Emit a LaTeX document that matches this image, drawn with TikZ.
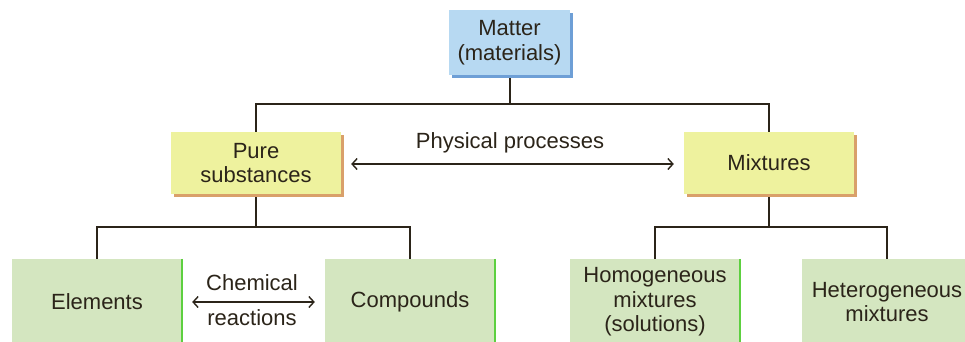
\documentclass[tikz,border=0pt]{standalone}
\usepackage{fontspec}
\setmainfont{Liberation Sans}
\usetikzlibrary{arrows.meta,shadows}
\definecolor{txt}{HTML}{2B2419}
\definecolor{bluefill}{HTML}{B7D9F2}
\definecolor{blueshade}{HTML}{6E9FD6}
\definecolor{yelfill}{HTML}{EEF29E}
\definecolor{yelshade}{HTML}{D9A06A}
\definecolor{grnfill}{HTML}{D4E6C0}
\definecolor{grnedge}{HTML}{5DD040}
\tikzset{
  base/.style={inner sep=0pt, align=center, text=txt, font=\fontsize{22}{24.5}\selectfont},
  bluebox/.style={base, fill=bluefill, minimum width=121pt, minimum height=65pt,
    drop shadow={shadow xshift=3pt, shadow yshift=-3pt, fill=blueshade, opacity=1}},
  yelbox/.style={base, fill=yelfill, minimum width=170pt, minimum height=62pt,
    drop shadow={shadow xshift=3pt, shadow yshift=-3pt, fill=yelshade, opacity=1}},
  grnbox/.style={base, fill=grnfill, minimum width=170pt, minimum height=86pt},
  conn/.style={draw=txt, line width=2pt},
  biarrow/.style={draw=txt, line width=1.4pt, {Straight Barb[length=5pt,width=11pt]}-{Straight Barb[length=5pt,width=11pt]}},
  lbl/.style={base}
}
\begin{document}
\begin{tikzpicture}[x=1pt,y=-1pt]
\useasboundingbox (0,0) rectangle (965,341);
\fill[white] (0,0) rectangle (965,341);
\node[bluebox] (matter) at (509.5,42.5) {Matter\\(materials)};
\node[yelbox] (pure) at (256,163) {Pure\\substances};
\node[yelbox] (mix) at (769,163) {Mixtures};
\node[grnbox] (elem) at (97,302) {Elements};
\node[grnbox] (comp) at (410,302) {Compounds};
\node[grnbox] (homo) at (655,302) {Homogeneous\\mixtures\\(solutions)};
\node[grnbox] (hete) at (887,302) {Heterogeneous\\mixtures};
\draw[grnedge, line width=2.5pt] (elem.north east) -- (elem.south east);
\draw[grnedge, line width=2.5pt] (comp.north east) -- (comp.south east);
\draw[grnedge, line width=2.5pt] (homo.north east) -- (homo.south east);
% tree connectors
\coordinate (j1) at (509.5,104);
\coordinate (j2) at (256,227);
\coordinate (j3) at (769,227);
\draw[conn] ([yshift=-3pt]matter.south) -- (j1);
\draw[conn] (pure.north) |- (j1) -| (mix.north);
\draw[conn] ([yshift=-3pt]pure.south) -- (j2);
\draw[conn] (elem.north) |- (j2) -| (comp.north);
\draw[conn] ([yshift=-3pt]mix.south) -- (j3);
\draw[conn] (homo.north) |- (j3) -| (hete.north);
% arrows
\node[lbl] (phys) at (510,143) {Physical processes};
\draw[biarrow] ([xshift=10pt,yshift=-1pt]pure.east) -- ([xshift=-10pt,yshift=-1pt]mix.west);
\node[lbl] (chem) at (252,283) {Chemical};
\node[lbl] (react) at (252,318) {reactions};
\draw[biarrow] ([xshift=10pt]elem.east) -- ([xshift=-10pt]comp.west);
\end{tikzpicture}
\end{document}
